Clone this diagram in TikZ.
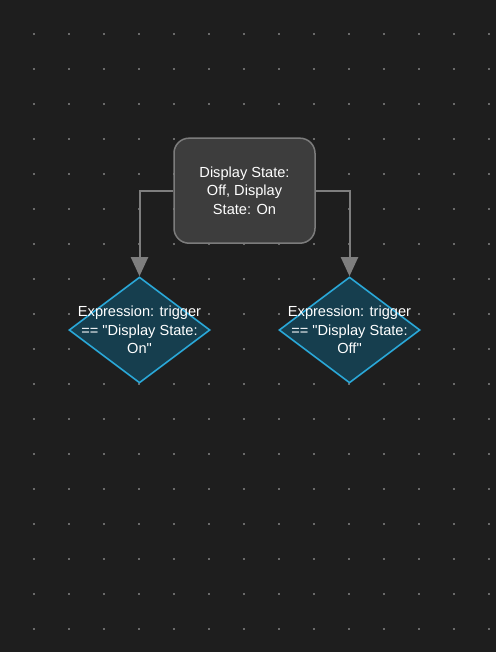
\documentclass[tikz,border=0pt]{standalone}
\usepackage{fontspec}
\setmainfont{Liberation Sans}
\usetikzlibrary{shapes.geometric,arrows.meta}
\definecolor{bg}{HTML}{1E1E1E}
\definecolor{dotc}{HTML}{6A6A6A}
\definecolor{boxfill}{HTML}{3D3D3D}
\definecolor{boxline}{HTML}{7C7C7C}
\definecolor{dfill}{HTML}{163E4E}
\definecolor{dline}{HTML}{2AA8D8}
\definecolor{conn}{HTML}{7E7E7E}
\tikzset{
  statebox/.style={draw=boxline, line width=1.5pt, fill=boxfill, rounded corners=15pt,
    minimum width=141pt, minimum height=105pt, inner sep=0pt},
  decision/.style={diamond, draw=dline, line width=1.6pt, fill=dfill,
    minimum width=141pt, minimum height=106pt, inner sep=0pt},
  lbl/.style={text=white, font=\fontsize{14.6}{18.5}\selectfont, align=center},
  conn/.style={draw=conn, line width=2pt, -{Triangle[length=19pt,width=17pt]}}
}
\begin{document}
\begin{tikzpicture}[x=1pt,y=-1pt]
\fill[bg] (0,0) rectangle (496,652);
\useasboundingbox (0,0) rectangle (496,652);
\foreach \i in {0,...,13}{
  \foreach \j in {0,...,17}{
    \fill[dotc] ({34+35*\i-0.6},{34+35*\j-0.6}) rectangle ++(1.2,1.2);
  }
}
\node[statebox] (box) at (244.5,190.7) {};
\node[lbl] (boxt) at (box.center) {Display State:\\Off, Display\\State: On};
\node[decision] (d1) at (139.5,330) {};
\node[decision] (d2) at (349.5,330) {};
\node[lbl] (d1t) at (d1.center) {Expression: trigger\\== \textquotedbl Display State:\\On\textquotedbl};
\node[lbl] (d2t) at (d2.center) {Expression: trigger\\== \textquotedbl Display State:\\Off\textquotedbl};
\draw[conn] (box.west) -| (d1.north);
\draw[conn] (box.east) -| (d2.north);
\end{tikzpicture}
\end{document}
